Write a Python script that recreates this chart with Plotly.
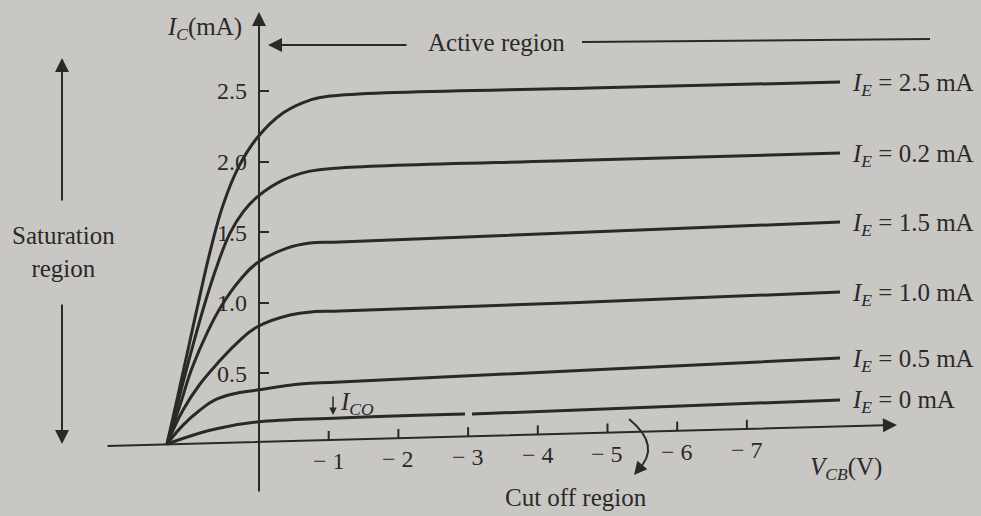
import plotly.graph_objects as go

W, H = 981, 516
INK = "#2b2928"
PAPER = "#c9c7c4"
FONT = "Liberation Serif"

# Common-base output characteristics: V_CB (V) against I_C (mA), one curve per emitter current
ie_labels = ["2.5", "0.2", "1.5", "1.0", "0.5", "0"]

vcb_ie25 = [1.320, 1.162, 1.004, 0.846, 0.689, 0.516, 0.301, 0.029, -0.344, -0.732, -1.019, -4.749, -8.336]
ic_ie25 = [0.0, 0.347, 0.701, 1.055, 1.388, 1.692, 1.954, 2.167, 2.344, 2.436, 2.465, 2.521, 2.564]

vcb_ie20 = [1.320, 1.133, 0.947, 0.775, 0.603, 0.416, 0.230, 0.029, -0.344, -0.732, -1.162, -4.749, -8.336]
ic_ie20 = [0.0, 0.354, 0.701, 0.999, 1.261, 1.494, 1.643, 1.749, 1.869, 1.933, 1.955, 2.011, 2.061]

vcb_ie15 = [1.320, 1.133, 0.961, 0.746, 0.531, 0.273, 0.029, -0.402, -0.732, -1.162, -4.749, -8.336]
ic_ie15 = [0.0, 0.276, 0.538, 0.786, 0.984, 1.161, 1.282, 1.388, 1.424, 1.431, 1.501, 1.572]

vcb_ie10 = [1.320, 1.090, 0.846, 0.603, 0.316, 0.029, -0.445, -0.804, -1.162, -4.749, -8.336]
ic_ie10 = [0.0, 0.241, 0.425, 0.567, 0.715, 0.829, 0.914, 0.938, 0.942, 1.006, 1.076]

vcb_ie05 = [1.320, 1.090, 0.846, 0.631, 0.373, 0.029, -0.588, -1.162, -4.749, -8.336]
ic_ie05 = [0.0, 0.134, 0.241, 0.312, 0.354, 0.382, 0.425, 0.439, 0.524, 0.609]

# I_E = 0 curve (leakage I_CO), with the break in the printed line
vcb_ie00 = [1.320, 0.846, 0.560, 0.029, -1.162, -2.956, None, -3.056, -8.336]
ic_ie00 = [0.0, 0.078, 0.113, 0.156, 0.184, 0.212, None, 0.212, 0.312]

x_tickvals = [-1, -2, -3, -4, -5, -6, -7]
x_ticktext = ["\u2212 1", "\u2212 2", "\u2212 3", "\u2212 4", "\u2212 5", "\u2212 6", "\u2212 7"]
y_tickvals = [0.5, 1.0, 1.5, 2.0, 2.5]
y_ticktext = ["0.5", "1.0", "1.5", "2.0", "2.5"]

X_RANGE = [3.716, -10.359]
Y_RANGE = [-0.510, 3.145]

# V_CB axis: slightly rising line from the left tail to the arrow tip
AXIS_TAIL = (2.195, -0.014)
AXIS_HEAD = (-9.153, 0.135)


def axis_level(v):
    (x0, y0), (x1, y1) = AXIS_TAIL, AXIS_HEAD
    return y0 + (v - x0) * (y1 - y0) / (x1 - x0)


def px(p):
    return p / W


def py(p):
    return 1 - p / H


series = [
    (vcb_ie25, ic_ie25),
    (vcb_ie20, ic_ie20),
    (vcb_ie15, ic_ie15),
    (vcb_ie10, ic_ie10),
    (vcb_ie05, ic_ie05),
    (vcb_ie00, ic_ie00),
]

fig = go.Figure()
annotations = []
shapes = []

for (xs, ys), lab in zip(series, ie_labels):
    fig.add_trace(go.Scatter(
        x=xs, y=ys, mode="lines",
        line=dict(color=INK, width=3, shape="spline", smoothing=1.2),
        hoverinfo="skip", showlegend=False,
    ))
    annotations.append(dict(
        x=xs[-1], y=ys[-1], xref="x", yref="y", xanchor="left", yanchor="middle",
        xshift=10, yshift=-2, showarrow=False,
        text=f"<i>I</i><sub><i>E</i></sub> = {lab} mA",
        font=dict(family=FONT, size=25, color=INK),
    ))

ARROW = dict(text="", showarrow=True, arrowhead=2, arrowsize=1.4, arrowwidth=2,
             arrowcolor=INK, standoff=0)

# I_C axis with arrow
y_axis_x = 0.0
annotations.append(dict(x=y_axis_x, y=3.06, ax=y_axis_x, ay=-0.347,
                        xref="x", yref="y", axref="x", ayref="y", **ARROW))
# V_CB axis with arrow
annotations.append(dict(x=AXIS_HEAD[0], y=AXIS_HEAD[1], ax=AXIS_TAIL[0], ay=AXIS_TAIL[1],
                        xref="x", yref="y", axref="x", ayref="y", **ARROW))

# V_CB ticks and labels along the axis line
for v, t in zip(x_tickvals, x_ticktext):
    base = axis_level(v)
    shapes.append(dict(type="line", xref="x", yref="y", x0=v, x1=v, y0=base, y1=base + 0.065,
                       line=dict(color=INK, width=2)))
    annotations.append(dict(
        x=v, y=base, xref="x", yref="y", yanchor="top", xanchor="center", yshift=-6,
        showarrow=False, text=t, font=dict(family=FONT, size=24, color=INK),
    ))

TXT = dict(family=FONT, size=25, color=INK)

# Axis titles
annotations.append(dict(x=px(244), y=py(29), xref="paper", yref="paper", xanchor="right", yanchor="middle",
                        showarrow=False, text="<i>I</i><sub><i>C</i></sub>(mA)", font=TXT))
annotations.append(dict(x=px(808), y=py(468), xref="paper", yref="paper", xanchor="left", yanchor="middle",
                        showarrow=False, text="<i>V</i><sub><i>CB</i></sub>(V)", font=TXT))

# Active region
annotations.append(dict(x=px(496), y=py(42), xref="paper", yref="paper", xanchor="center", yanchor="middle",
                        showarrow=False, text="Active region", font=TXT))
annotations.append(dict(x=px(268), y=py(45), xref="paper", yref="paper", ax=140, ay=0, **ARROW))
shapes.append(dict(type="line", xref="paper", yref="paper", x0=px(582), x1=px(930), y0=py(42), y1=py(39),
                   line=dict(color=INK, width=2)))

# Saturation region
annotations.append(dict(x=px(63), y=py(252), xref="paper", yref="paper", xanchor="center", yanchor="middle",
                        showarrow=False, text="Saturation<br>region", font=TXT, align="center"))
annotations.append(dict(x=px(62), y=py(58), xref="paper", yref="paper", ax=0, ay=144, **ARROW))
annotations.append(dict(x=px(62), y=py(444), xref="paper", yref="paper", ax=0, ay=-141, **ARROW))

# Cut off region
annotations.append(dict(x=px(576), y=py(497), xref="paper", yref="paper", xanchor="center", yanchor="middle",
                        showarrow=False, text="Cut off region", font=TXT))
shapes.append(dict(type="path", xref="paper", yref="paper",
                   path=f"M {px(629)},{py(419)} Q {px(662)},{py(446)} {px(638)},{py(470)}",
                   line=dict(color=INK, width=2)))
annotations.append(dict(x=px(634), y=py(475), xref="paper", yref="paper", ax=5, ay=-6,
                        text="", showarrow=True, arrowhead=2, arrowsize=1.3, arrowwidth=2,
                        arrowcolor=INK, standoff=0))

# Leakage current marker
annotations.append(dict(x=px(333), y=py(415), xref="paper", yref="paper", ax=0, ay=-20,
                        text="", showarrow=True, arrowhead=2, arrowsize=1.0, arrowwidth=1.5,
                        arrowcolor=INK, standoff=0))
annotations.append(dict(x=px(338), y=py(403), xref="paper", yref="paper", xanchor="left", yanchor="middle",
                        showarrow=False, text="<i>I</i><sub><i>CO</i></sub>", font=TXT))

fig.update_layout(
    width=W, height=H,
    margin=dict(l=0, r=0, t=0, b=0),
    paper_bgcolor=PAPER, plot_bgcolor=PAPER,
    showlegend=False,
    xaxis=dict(range=X_RANGE, visible=False, fixedrange=True),
    yaxis=dict(
        range=Y_RANGE, anchor="free", position=(X_RANGE[0] - y_axis_x) / (X_RANGE[0] - X_RANGE[1]),
        showline=False, showgrid=False, zeroline=False,
        ticks="inside", ticklen=9, tickwidth=2, tickcolor=INK,
        tickvals=y_tickvals, ticktext=y_ticktext, ticklabelstandoff=12,
        tickfont=dict(family=FONT, size=24, color=INK), fixedrange=True,
    ),
    annotations=annotations,
    shapes=shapes,
)

fig.write_html("out.html")
